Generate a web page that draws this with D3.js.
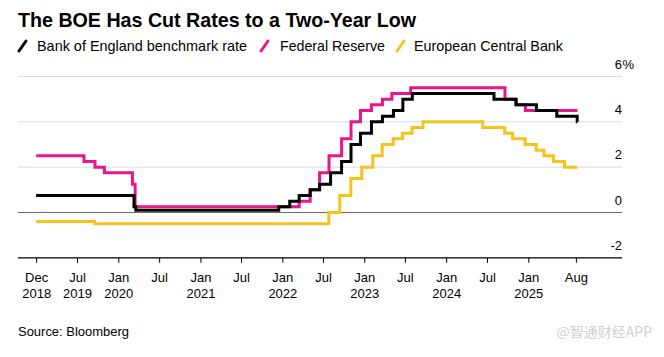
<!DOCTYPE html>
<html>
<head>
<meta charset="utf-8">
<script src="https://cdn.jsdelivr.net/npm/d3@7/dist/d3.min.js"></script>
<style>
  html, body { margin: 0; padding: 0; background: #fff; }
  svg { display: block; font-family: "Liberation Sans", Arial, sans-serif; }
</style>
</head>
<body>
<svg id="chart" width="664" height="357"></svg>
<script>
// ---------- data ----------
const endDate = "2025-08-08";

const boeDates = ["2018-12-31","2020-03-11","2020-03-19","2021-12-16","2022-02-03","2022-03-17","2022-05-05","2022-06-16","2022-08-04","2022-09-22","2022-11-03","2022-12-15","2023-02-02","2023-03-23","2023-05-11","2023-06-22","2023-08-03","2024-08-01","2024-11-07","2025-02-06","2025-05-08","2025-08-07"];
const boeRates = [0.75,0.25,0.10,0.25,0.50,0.75,1.00,1.25,1.75,2.25,3.00,3.50,4.00,4.25,4.50,5.00,5.25,5.00,4.75,4.50,4.25,4.00];

const fedDates = ["2018-12-31","2019-08-01","2019-09-19","2019-10-31","2020-03-04","2020-03-16","2022-03-17","2022-05-05","2022-06-16","2022-07-28","2022-09-22","2022-11-03","2022-12-15","2023-02-02","2023-03-23","2023-05-04","2023-07-27","2024-09-19","2024-11-08","2024-12-19"];
const fedRates = [2.50,2.25,2.00,1.75,1.25,0.25,0.50,1.00,1.75,2.50,3.25,4.00,4.50,4.75,5.00,5.25,5.50,5.00,4.75,4.50];

const ecbDates = ["2018-12-31","2019-09-18","2022-07-27","2022-09-14","2022-11-02","2022-12-21","2023-02-08","2023-03-22","2023-05-10","2023-06-21","2023-08-02","2023-09-20","2024-06-12","2024-09-18","2024-10-23","2024-12-18","2025-02-05","2025-03-12","2025-04-23","2025-06-11"];
const ecbRates = [-0.40,-0.50,0.00,0.75,1.50,2.00,2.50,3.00,3.25,3.50,3.75,4.00,3.75,3.50,3.25,3.00,2.75,2.50,2.25,2.00];

const seriesNames = ["Bank of England benchmark rate","Federal Reserve","European Central Bank"];
const seriesColors = ["#000000","#e8168c","#f6c21c"];

const tickDates  = ["2018-12-31","2019-07-01","2020-01-01","2020-07-01","2021-01-01","2021-07-01","2022-01-01","2022-07-01","2023-01-01","2023-07-01","2024-01-01","2024-07-01","2025-01-01","2025-08-01"];
const tickMonths = ["Dec","Jul","Jan","Jul","Jan","Jul","Jan","Jul","Jan","Jul","Jan","Jul","Jan","Aug"];
const tickYears  = ["2018","2019","2020","","2021","","2022","","2023","","2024","","2025",""];

const yTicks = [-2,0,2,4,6];
const yTickLabels = ["-2","0","2","4","6"];

const titleText = "The BOE Has Cut Rates to a Two-Year Low";
const sourceText = "Source: Bloomberg";
const watermarkText = "@智通财经APP";

// ---------- setup ----------
const parse = d3.utcParse("%Y-%m-%d");
const svg = d3.select("#chart");

const plotLeft = 18, plotRight = 622;
const x = d3.scaleUtc()
  .domain([parse("2020-01-01"), parse("2025-01-01")])
  .range([118.3, 528.3]);
const y = d3.scaleLinear().domain([0, 6]).range([212.5, 76.5]);

// gridlines
svg.append("g").selectAll("line")
  .data(yTicks.filter(v => v !== -2))
  .join("line")
  .attr("x1", plotLeft).attr("x2", plotRight)
  .attr("y1", d => y(d)).attr("y2", d => y(d))
  .attr("stroke", d => d === 0 ? "#6e6e6e" : "#dcdcdc")
  .attr("stroke-width", 1);

// y labels
const yl = svg.append("g").attr("font-size", 13).attr("fill", "#000");
yTicks.forEach((v, i) => {
  yl.append("text")
    .attr("x", plotRight).attr("y", y(v) - 8)
    .attr("text-anchor", "end")
    .text(yTickLabels[i]);
});
yl.append("text").attr("x", plotRight + 0.5).attr("y", y(6) - 8).text("%");

// x axis
const xAxis = d3.axisBottom(x)
  .tickValues(tickDates.map(parse))
  .tickSize(5)
  .tickPadding(9.5)
  .tickFormat((d, i) => tickMonths[i]);
const gx = svg.append("g")
  .attr("transform", `translate(0,${y(-2)})`)
  .call(xAxis);
gx.select(".domain").remove();
gx.selectAll(".tick line").attr("stroke", "#000");
gx.selectAll(".tick text")
  .attr("font-family", "Liberation Sans, Arial, sans-serif")
  .attr("font-size", 13)
  .attr("fill", "#000")
  .each(function(d, i) {
    const t = d3.select(this);
    t.text(null);
    t.append("tspan").attr("x", 0).attr("dy", "0.71em").text(tickMonths[i]);
    if (tickYears[i]) t.append("tspan").attr("x", 0).attr("dy", "1.25em").text(tickYears[i]);
  });
gx.selectAll(".tick text").attr("dy", null);
svg.append("line")
  .attr("x1", plotLeft).attr("x2", plotRight)
  .attr("y1", y(-2)).attr("y2", y(-2))
  .attr("stroke", "#000").attr("stroke-width", 1.2);

// lines
function buildSeries(dates, rates) {
  const pts = dates.map((d, i) => ({ date: parse(d), value: rates[i] }));
  pts.push({ date: parse(endDate), value: rates[rates.length - 1] });
  return pts;
}
const allSeries = [
  buildSeries(boeDates, boeRates),
  buildSeries(fedDates, fedRates),
  buildSeries(ecbDates, ecbRates)
];
const line = d3.line()
  .x(d => x(d.date))
  .y(d => y(d.value))
  .curve(d3.curveStepAfter);

[2, 1, 0].forEach(i => {
  svg.append("path")
    .datum(allSeries[i])
    .attr("fill", "none")
    .attr("stroke", seriesColors[i])
    .attr("stroke-width", 3)
    .attr("stroke-linejoin", "miter")
    .attr("d", line);
});

// title
svg.append("text")
  .attr("x", 18).attr("y", 27)
  .attr("font-size", 21).attr("font-weight", "bold")
  .attr("textLength", 398).attr("lengthAdjust", "spacingAndGlyphs")
  .text(titleText);

// legend
const legendItems = [
  { icon: 19, text: 37, width: 210 },
  { icon: 261, text: 280, width: 105 },
  { icon: 397, text: 414, width: 149 }
];
legendItems.forEach((it, i) => {
  svg.append("line")
    .attr("x1", it.icon).attr("y1", 51)
    .attr("x2", it.icon + 7).attr("y2", 41)
    .attr("stroke", seriesColors[i]).attr("stroke-width", 3)
    .attr("stroke-linecap", "round");
  svg.append("text")
    .attr("x", it.text).attr("y", 51)
    .attr("font-size", 15)
    .attr("textLength", it.width).attr("lengthAdjust", "spacingAndGlyphs")
    .text(seriesNames[i]);
});

// source & watermark
svg.append("text")
  .attr("x", 18).attr("y", 336)
  .attr("font-size", 12.5)
  .attr("textLength", 111).attr("lengthAdjust", "spacingAndGlyphs")
  .text(sourceText);
svg.append("text")
  .attr("x", 652).attr("y", 337)
  .attr("text-anchor", "end")
  .attr("font-size", 14)
  .attr("font-family", "Noto Sans CJK SC, sans-serif")
  .attr("fill", "#d0d0d0")
  .text(watermarkText);
</script>
</body>
</html>
